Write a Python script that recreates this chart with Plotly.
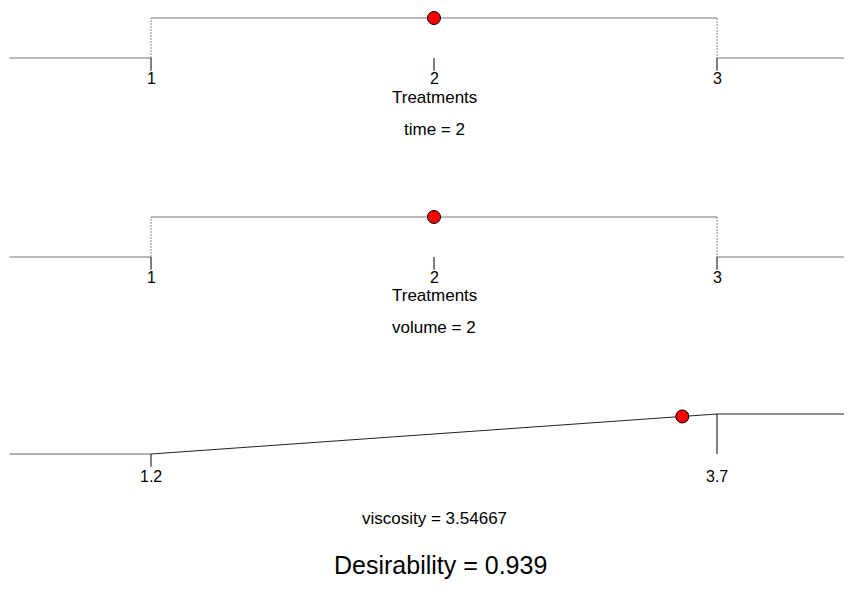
import plotly.graph_objects as go

# ---- data ----
time_x = [0.5, 1, 1, 3, 3, 3.6]
time_d = [0, 0, 1, 1, 0, 0]
volume_x = [0.5, 1, 1, 3, 3, 3.6]
volume_d = [0, 0, 1, 1, 0, 0]
visc_x = [0.575, 1.2, 3.7, 4.4]
visc_d = [0, 0, 1, 1]

treat_ticks = [1, 2, 3]
treat_labels = ["1", "2", "3"]
visc_ticks = [1.2, 3.7]
visc_labels = ["1.2", "3.7"]

time_value, time_desir = 2, 1.0
volume_value, volume_desir = 2, 1.0
visc_value, visc_desir = 3.54667, 0.93867
overall_desirability = 0.939

W, H = 852, 597
OFF = 8  # page body margin offset
FONT = "Liberation Sans, Arial, sans-serif"
PX = 40.0  # pixels per desirability unit
TXT = "#000000"


def ydom(d0, top, bottom):
    d0, top, bottom = d0 - OFF, top - OFF, bottom - OFF
    rng = [(d0 - bottom) / PX, (d0 - top) / PX]
    dom = [1 - bottom / H, 1 - top / H]
    return rng, dom


def xrange_for(v_at, px_at, px_per_unit):
    px_at = px_at - OFF
    return [v_at - px_at / px_per_unit, v_at + (W - px_at) / px_per_unit]


fig = go.Figure()

panels = [
    dict(x=time_x, d=time_d, val=time_value, dv=time_desir, ticks=treat_ticks,
         labels=treat_labels, xa="x", ya="y", step=True),
    dict(x=volume_x, d=volume_d, val=volume_value, dv=volume_desir, ticks=treat_ticks,
         labels=treat_labels, xa="x2", ya="y2", step=True),
    dict(x=visc_x, d=visc_d, val=visc_value, dv=visc_desir, ticks=visc_ticks,
         labels=visc_labels, xa="x3", ya="y3", step=False),
]

for p in panels:
    xa, ya = p["xa"], p["ya"]
    xs, ds = p["x"], p["d"]
    if p["step"]:
        for i in range(len(xs) - 1):
            vertical = xs[i] == xs[i + 1]
            fig.add_trace(go.Scatter(
                x=[xs[i], xs[i + 1]], y=[ds[i], ds[i + 1]], mode="lines",
                line=dict(color="#888888" if vertical else "#777777", width=1,
                          dash="2px,1px" if vertical else "solid"),
                xaxis=xa, yaxis=ya, showlegend=False, hoverinfo="skip"))
    else:
        fig.add_trace(go.Scatter(
            x=xs[:2], y=ds[:2], mode="lines", line=dict(color="#666666", width=1),
            xaxis=xa, yaxis=ya, showlegend=False, hoverinfo="skip"))
        fig.add_trace(go.Scatter(
            x=xs[1:], y=ds[1:], mode="lines", line=dict(color="#222222", width=1),
            xaxis=xa, yaxis=ya, showlegend=False, hoverinfo="skip"))
    for t in p["ticks"]:
        if not p["step"] and t == p["ticks"][-1]:
            y0, y1 = 1, 0
        else:
            y0, y1 = 0, -0.32
        fig.add_trace(go.Scatter(
            x=[t, t], y=[y0, y1], mode="lines", line=dict(color="#000000", width=1),
            xaxis=xa, yaxis=ya, showlegend=False, hoverinfo="skip"))
    for t, lab in zip(p["ticks"], p["labels"]):
        fig.add_annotation(x=t, y=-0.55 if not p["step"] else -0.52, xref=xa, yref=ya,
                           text=lab, showarrow=False, borderpad=0,
                           font=dict(family=FONT, size=16, color=TXT))
    fig.add_trace(go.Scatter(
        x=[p["val"]], y=[p["dv"]], mode="markers",
        marker=dict(color="#ff0000", size=13, line=dict(color="#000000", width=1)),
        xaxis=xa, yaxis=ya, showlegend=False, cliponaxis=False))

common = dict(showarrow=False, borderpad=0)
fig.add_annotation(x=2, y=-0.99, xref="x", yref="y", text="Treatments",
                   font=dict(family=FONT, size=17, color=TXT), **common)
fig.add_annotation(x=2, y=-1.78, xref="x", yref="y", text=f"time = {time_value}",
                   font=dict(family=FONT, size=17, color=TXT), **common)
fig.add_annotation(x=2, y=-0.97, xref="x2", yref="y2", text="Treatments",
                   font=dict(family=FONT, size=17, color=TXT), **common)
fig.add_annotation(x=2, y=-1.75, xref="x2", yref="y2", text=f"volume = {volume_value}",
                   font=dict(family=FONT, size=17, color=TXT), **common)
fig.add_annotation(x=2.45, y=-1.62, xref="x3", yref="y3", text=f"viscosity = {visc_value}",
                   font=dict(family=FONT, size=17, color=TXT), **common)
fig.add_annotation(x=(440 - OFF) / W, y=1 - (565 - OFF) / H, xref="paper", yref="paper",
                   xanchor="center", yanchor="middle",
                   text=f"Desirability = {overall_desirability}",
                   font=dict(family=FONT, size=25, color=TXT), **common)

r1, d1 = ydom(58, 8, 150)
r2, d2 = ydom(257, 190, 350)
r3, d3 = ydom(454, 395, 540)
xr12 = xrange_for(1, 151, 283)
xr3 = xrange_for(1.2, 151, 226.4)

hidden = dict(visible=False, showgrid=False, zeroline=False, fixedrange=True)
fig.update_layout(
    width=W, height=H, margin=dict(l=0, r=0, t=0, b=0),
    paper_bgcolor="white", plot_bgcolor="white", showlegend=False,
    xaxis=dict(range=xr12, domain=[0, 1], anchor="y", **hidden),
    xaxis2=dict(range=xr12, domain=[0, 1], anchor="y2", **hidden),
    xaxis3=dict(range=xr3, domain=[0, 1], anchor="y3", **hidden),
    yaxis=dict(range=r1, domain=d1, anchor="x", **hidden),
    yaxis2=dict(range=r2, domain=d2, anchor="x2", **hidden),
    yaxis3=dict(range=r3, domain=d3, anchor="x3", **hidden),
)

fig.write_html("out.html")
